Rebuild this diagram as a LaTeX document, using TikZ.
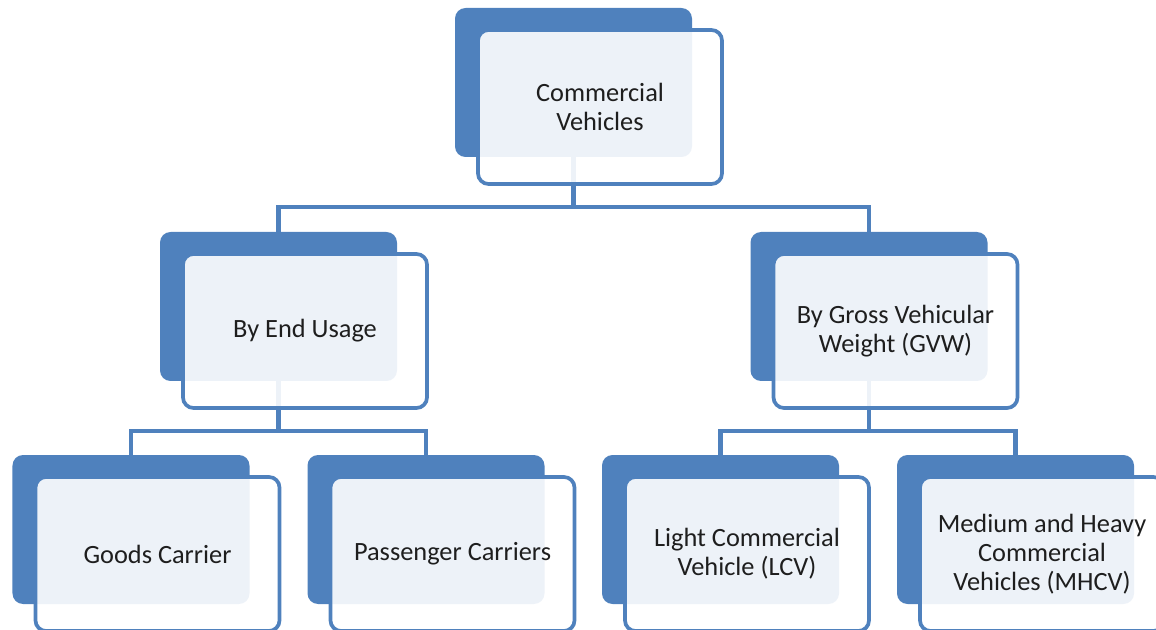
\documentclass[tikz,border=0pt]{standalone}
\usepackage{fontspec}
\setmainfont{Carlito}
\usepackage{xcolor}
\usepackage{tikz}
\usetikzlibrary{positioning, calc}
\definecolor{accentblue}{RGB}{79, 129, 189}
\definecolor{labelgray}{RGB}{30, 30, 30}

\tikzset{
    backbox/.style={rectangle, rounded corners=6pt, fill=accentblue, minimum width=4.74cm, minimum height=2.98cm, inner sep=0pt},
    frontbox/.style={rectangle, rounded corners=6pt, draw=accentblue, line width=2.1pt, fill=white, fill opacity=0.9, text opacity=1,
        minimum width=4.88cm, minimum height=3.08cm, inner sep=0pt, align=center, text=labelgray, font=\fontsize{15}{16.5}\selectfont},
    link/.style={draw=accentblue, line width=2.3pt}
}

\begin{document}
\begin{tikzpicture}
    \useasboundingbox (0,0) rectangle (23.12,12.58);

    % Back boxes
    \node[backbox] (cvback) at (11.47,10.93) {};
    \node[backbox] (endback) at (5.57,6.45) {};
    \node[backbox] (gvwback) at (17.38,6.45) {};
    \node[backbox] (goodsback) at (2.62,1.99) {};
    \node[backbox] (passback) at (8.52,1.99) {};
    \node[backbox] (lcvback) at (14.41,1.99) {};
    \node[backbox] (mhcvback) at (20.31,1.99) {};

    % Connectors
    \draw[link] (cvback.south) -- ++(0,-1) -| (endback.north);
    \draw[link] (cvback.south) -- ++(0,-1) -| (gvwback.north);
    \draw[link] (endback.south) -- ++(0,-1) -| (goodsback.north);
    \draw[link] (endback.south) -- ++(0,-1) -| (passback.north);
    \draw[link] (gvwback.south) -- ++(0,-1) -| (lcvback.north);
    \draw[link] (gvwback.south) -- ++(0,-1) -| (mhcvback.north);

    % Front boxes with labels
    \node[frontbox] (cv) at ($(cvback)+(0.53,-0.49)$) {Commercial\\Vehicles};
    \node[frontbox] (enduse) at ($(endback)+(0.53,-0.49)$) {By End Usage};
    \node[frontbox] (gvw) at ($(gvwback)+(0.53,-0.49)$) {By Gross Vehicular\\Weight (GVW)};
    \node[frontbox] (goods) at ($(goodsback)+(0.53,-0.49)$) {Goods Carrier};
    \node[frontbox] (pass) at ($(passback)+(0.53,-0.49)$) {Passenger Carriers};
    \node[frontbox] (lcv) at ($(lcvback)+(0.53,-0.49)$) {Light Commercial\\Vehicle (LCV)};
    \node[frontbox] (mhcv) at ($(mhcvback)+(0.53,-0.49)$) {Medium and Heavy\\Commercial\\Vehicles (MHCV)};
\end{tikzpicture}
\end{document}
